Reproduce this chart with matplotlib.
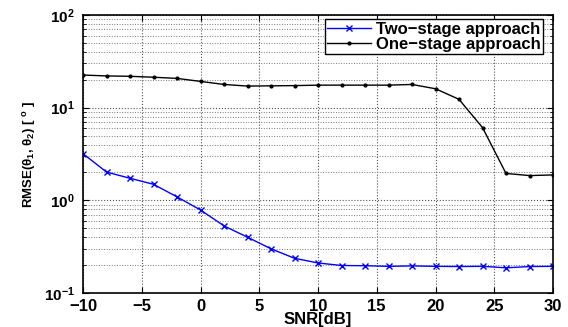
import matplotlib
matplotlib.use("Agg")
import matplotlib.pyplot as plt
from matplotlib.ticker import LogLocator, NullFormatter

plt.rcParams['font.family'] = ['Liberation Sans', 'DejaVu Sans']
plt.rcParams['font.weight'] = 'bold'
plt.rcParams['mathtext.fontset'] = 'custom'
plt.rcParams['mathtext.rm'] = 'Liberation Sans:bold'
plt.rcParams['mathtext.it'] = 'Liberation Sans:bold'
plt.rcParams['mathtext.bf'] = 'Liberation Sans:bold'

snr = list(range(-10, 31, 2))
two_stage = [3.19, 2.02, 1.73, 1.49, 1.09, 0.787, 0.53, 0.40, 0.30, 0.237, 0.211,
             0.198, 0.197, 0.194, 0.196, 0.194, 0.193, 0.194, 0.187, 0.193, 0.194]
one_stage = [22.5, 22.0, 21.8, 21.3, 20.7, 19.2, 17.8, 17.1, 17.2, 17.3, 17.5,
             17.5, 17.5, 17.5, 17.8, 16.0, 12.3, 6.1, 1.95, 1.85, 1.88]

fig = plt.figure(figsize=(5.68, 3.27), dpi=100)
ax = fig.add_axes([83 / 568, 1 - 293 / 327, 470 / 568, 278 / 327])

ax.plot(snr, two_stage, color='blue', marker='x', markersize=5, linewidth=1,
        label='Two\u2212stage approach')
ax.plot(snr, one_stage, color='black', marker='.', markersize=4, linewidth=1,
        label='One\u2212stage approach')

ax.set_yscale('log')
ax.set_xlim(-10, 30)
ax.set_ylim(0.1, 100)
ax.set_xticks(range(-10, 31, 5))
ax.set_xticklabels(['\u221210', '\u22125', '0', '5', '10', '15', '20', '25', '30'])
ax.yaxis.set_major_locator(LogLocator(base=10, numticks=10))
ax.yaxis.set_minor_locator(LogLocator(base=10, subs=range(2, 10), numticks=10))
ax.yaxis.set_minor_formatter(NullFormatter())

ax.grid(True, which='major', linestyle=':', color='#555555', linewidth=0.8)
ax.grid(True, which='minor', linestyle=':', color='#777777', linewidth=0.7)
ax.tick_params(which='both', direction='in', top=True, right=True)
ax.tick_params(axis='x', labelsize=12, pad=4)
ax.tick_params(axis='y', labelsize=11, pad=6)
ax.tick_params(which='major', length=4)
ax.tick_params(which='minor', length=2)
for s in ax.spines.values():
    s.set_linewidth(1.2)

ax.set_xlabel('SNR[dB]', fontsize=12, fontweight='bold', labelpad=-1)
ax.set_ylabel(r'RMSE($\theta_1$, $\theta_2$) [ $^o$ ]', fontsize=9.5,
              fontweight='bold', labelpad=4)

leg = ax.legend(loc='upper right', bbox_to_anchor=(0.9787, 0.9856),
                fontsize=12, fancybox=False, framealpha=1,
                edgecolor='black', borderpad=0.15, labelspacing=0.0,
                handlelength=2.6, handletextpad=0.3, borderaxespad=0)
leg.get_frame().set_linewidth(1)

fig.savefig('out.png', dpi=100)
